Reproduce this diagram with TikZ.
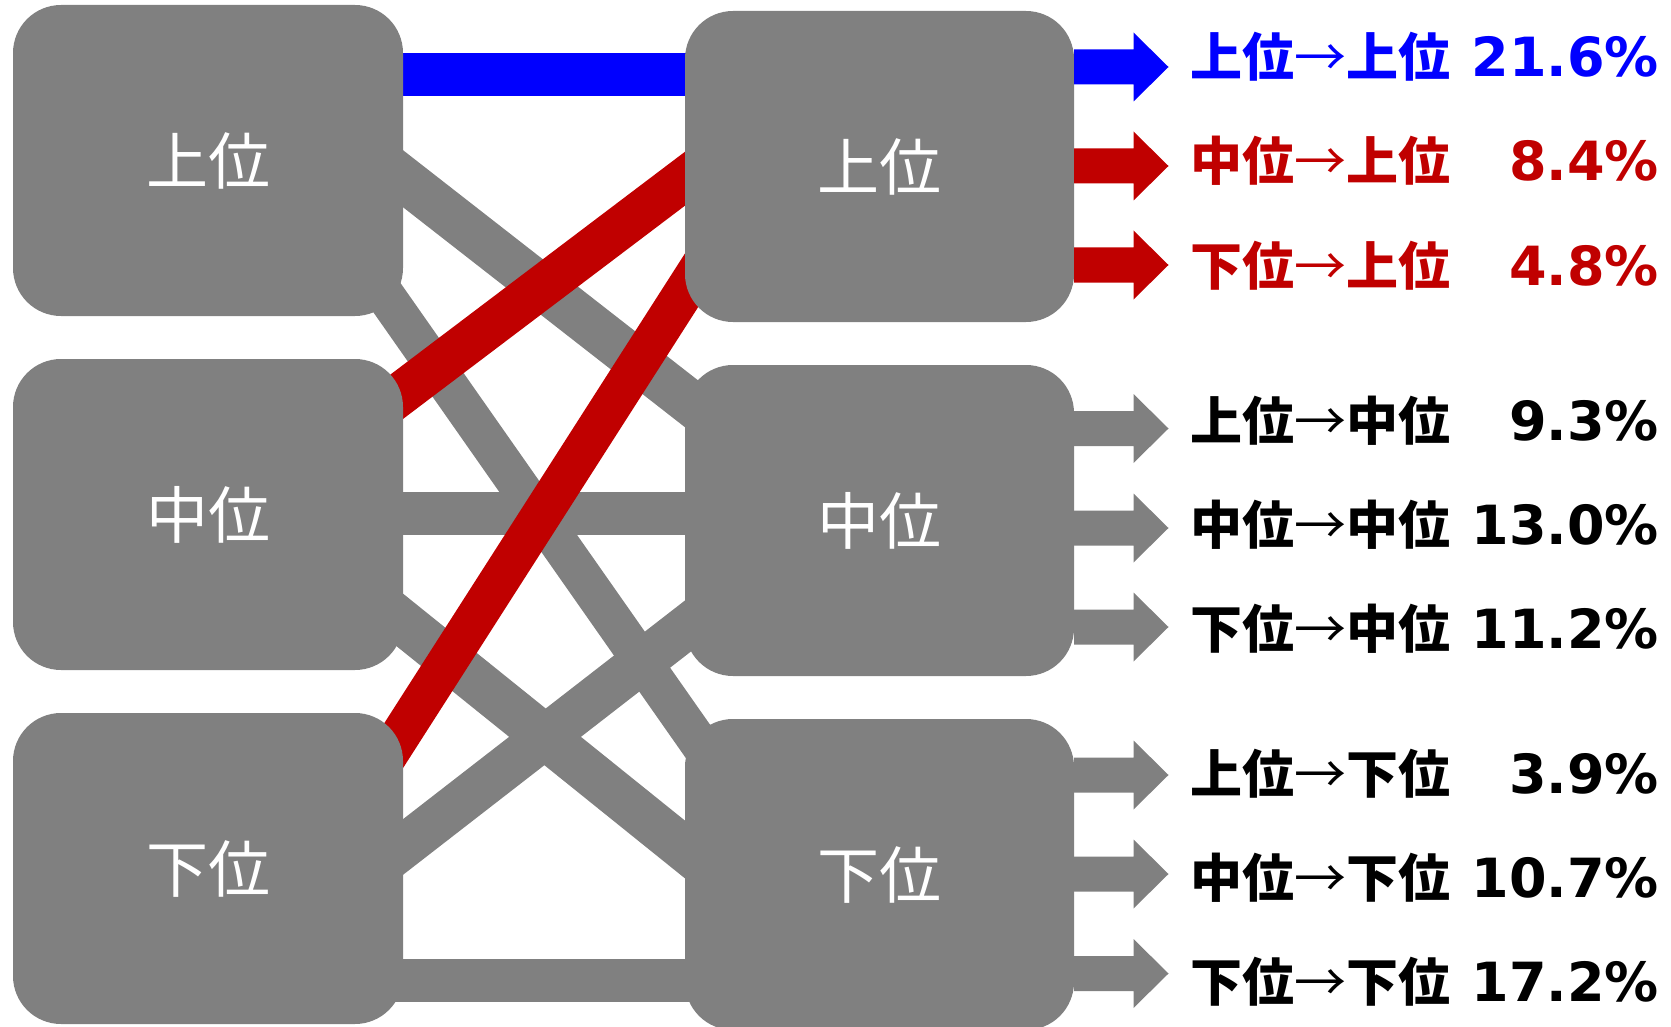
\documentclass[tikz,border=0pt]{standalone}
\usepackage{fontspec}
\newfontfamily\cjk{Noto Sans CJK JP}
\newfontfamily\numf{DejaVu Sans}
\usetikzlibrary{calc}
\definecolor{bandgray}{HTML}{808080}
\definecolor{bandred}{HTML}{C00000}
\definecolor{bandblue}{HTML}{0000FF}
\pgfdeclarelayer{bands}
\pgfsetlayers{bands,main}
\tikzset{
  stagebox/.style={fill=bandgray, rounded corners=48pt, minimum height=311pt,
    inner sep=0pt, outer sep=0pt, text=white, font=\cjk\fontsize{62pt}{70pt}\selectfont},
  leftbox/.style={stagebox, minimum width=390pt},
  rightbox/.style={stagebox, minimum width=389pt},
  pctlabel/.style={anchor=base west, inner sep=0pt, outer sep=0pt,
    font=\fontsize{52pt}{60pt}\selectfont},
}
\newcommand\flowband[3]{\draw[line cap=butt,#1] ($(#2)!-40pt!(#3)$) -- ($(#3)!-40pt!(#2)$);}
\newcommand\outarrow[3]{%
  \fill[#1] ($(#2)+(0,-17.5)$) -- ($(#3)+(-35,-17.5)$) -- ($(#3)+(-35,-34.5)$) -- (#3)
    -- ($(#3)+(-35,34.5)$) -- ($(#3)+(-35,17.5)$) -- ($(#2)+(0,17.5)$) -- cycle;}
\newcommand\pctline[3]{\makebox[469pt][l]{\cjk\bfseries #1{\mdseries →}#2\hfill\numf\bfseries\fontsize{54pt}{60pt}\selectfont #3}}
\begin{document}
\begin{tikzpicture}[x=1pt,y=-1pt]
\useasboundingbox (0,0) rectangle (1671,1027);
\clip (0,0) rectangle (1671,1027);

% stage boxes
\node[leftbox] (L1) at (208,160.5) {上位};
\node[leftbox] (L2) at (208,514.5) {中位};
\node[leftbox] (L3) at (208,868.5) {下位};
\node[rightbox] (R1) at (879.5,166.5) {上位};
\node[rightbox] (R2) at (879.5,520.5) {中位};
\node[rightbox] (R3) at (879.5,874.5) {下位};

% band end points
\coordinate (uu-a) at (L1.east |- 0,74.5);  \coordinate (uu-b) at (R1.west |- 0,74.5);
\coordinate (um-a) at (L1.east |- 0,178.7); \coordinate (um-b) at (R2.west |- 0,398.7);
\coordinate (ul-a) at (L1.east |- 0,320.6); \coordinate (ul-b) at (R3.west |- 0,722.9);
\coordinate (mu-a) at (L2.east |- 0,392);   \coordinate (mu-b) at (R1.west |- 0,178.7);
\coordinate (mm-a) at (L2.east |- 0,513.3); \coordinate (mm-b) at (R2.west |- 0,513.3);
\coordinate (ml-a) at (L2.east |- 0,622.5); \coordinate (ml-b) at (R3.west |- 0,849.5);
\coordinate (lu-a) at (L3.east |- 0,731);   \coordinate (lu-b) at (R1.west |- 0,290.5);
\coordinate (lm-a) at (L3.east |- 0,847);   \coordinate (lm-b) at (R2.west |- 0,628.3);
\coordinate (ll-a) at (L3.east |- 0,980.3); \coordinate (ll-b) at (R3.west |- 0,980.3);

\begin{pgfonlayer}{bands}
  \flowband{bandgray, line width=45pt}{um-a}{um-b}
  \flowband{bandgray, line width=39pt}{ul-a}{ul-b}
  \flowband{bandgray, line width=43pt}{mm-a}{mm-b}
  \flowband{bandgray, line width=45pt}{ml-a}{ml-b}
  \flowband{bandgray, line width=44pt}{lm-a}{lm-b}
  \flowband{bandgray, line width=43pt}{ll-a}{ll-b}
  \flowband{bandred, line width=43pt}{mu-a}{mu-b}
  \flowband{bandred, line width=40pt}{lu-a}{lu-b}
  \flowband{bandblue, line width=43pt}{uu-a}{uu-b}
\end{pgfonlayer}

% output arrows
\coordinate (tip1) at (1168.5,67);    \coordinate (s1) at (R1.east |- tip1);
\coordinate (tip2) at (1168.5,166);   \coordinate (s2) at (R1.east |- tip2);
\coordinate (tip3) at (1168.5,265);   \coordinate (s3) at (R1.east |- tip3);
\coordinate (tip4) at (1168.5,428.5); \coordinate (s4) at (R2.east |- tip4);
\coordinate (tip5) at (1168.5,528);   \coordinate (s5) at (R2.east |- tip5);
\coordinate (tip6) at (1168.5,627);   \coordinate (s6) at (R2.east |- tip6);
\coordinate (tip7) at (1168.5,775);   \coordinate (s7) at (R3.east |- tip7);
\coordinate (tip8) at (1168.5,874);   \coordinate (s8) at (R3.east |- tip8);
\coordinate (tip9) at (1168.5,973.5); \coordinate (s9) at (R3.east |- tip9);
\outarrow{bandblue}{s1}{tip1}
\outarrow{bandred}{s2}{tip2}
\outarrow{bandred}{s3}{tip3}
\outarrow{bandgray}{s4}{tip4}
\outarrow{bandgray}{s5}{tip5}
\outarrow{bandgray}{s6}{tip6}
\outarrow{bandgray}{s7}{tip7}
\outarrow{bandgray}{s8}{tip8}
\outarrow{bandgray}{s9}{tip9}

% labels
\node[pctlabel, text=bandblue] (p1) at (1190,77)  {\pctline{上位}{上位}{21.6\%}};
\node[pctlabel, text=bandred]  (p2) at (1190,181) {\pctline{中位}{上位}{8.4\%}};
\node[pctlabel, text=bandred]  (p3) at (1190,285) {\pctline{下位}{上位}{4.8\%}};
\node[pctlabel, text=black]    (p4) at (1190,440) {\pctline{上位}{中位}{9.3\%}};
\node[pctlabel, text=black]    (p5) at (1190,544) {\pctline{中位}{中位}{13.0\%}};
\node[pctlabel, text=black]    (p6) at (1190,648) {\pctline{下位}{中位}{11.2\%}};
\node[pctlabel, text=black]    (p7) at (1190,793) {\pctline{上位}{下位}{3.9\%}};
\node[pctlabel, text=black]    (p8) at (1190,897) {\pctline{中位}{下位}{10.7\%}};
\node[pctlabel, text=black]    (p9) at (1190,1001) {\pctline{下位}{下位}{17.2\%}};
\end{tikzpicture}
\end{document}
